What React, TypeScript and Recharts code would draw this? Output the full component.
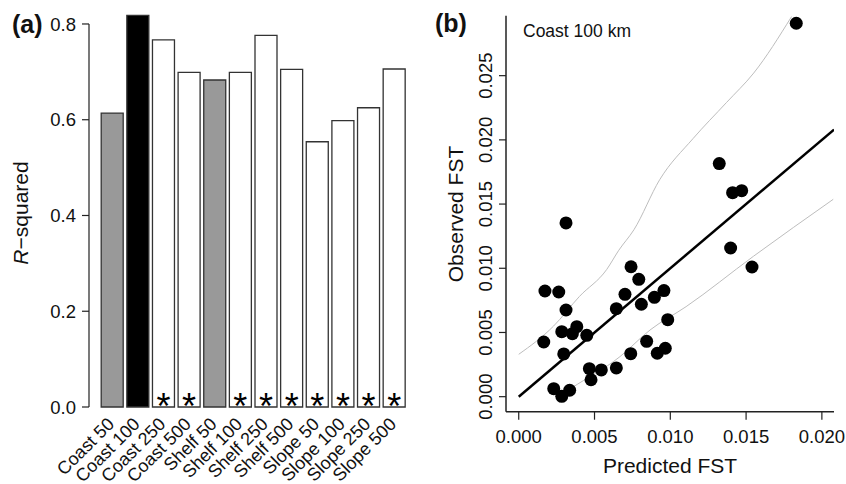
import { BarChart, Bar, XAxis, YAxis, Cell, LabelList, ScatterChart, Scatter } from "recharts";

const FONT = "'Liberation Sans', Arial, Helvetica, sans-serif";

// panel (a)
const categories = [
  "Coast 50", "Coast 100", "Coast 250", "Coast 500",
  "Shelf 50", "Shelf 100", "Shelf 250", "Shelf 500",
  "Slope 50", "Slope 100", "Slope 250", "Slope 500",
];
const rSquared = [0.614, 0.818, 0.767, 0.699, 0.683, 0.699, 0.776, 0.705, 0.554, 0.598, 0.625, 0.706];
const significant = [false, false, true, true, false, true, true, true, true, true, true, true];
const barFills = ["#999999", "#000000", "#ffffff", "#ffffff", "#999999", "#ffffff", "#ffffff", "#ffffff", "#ffffff", "#ffffff", "#ffffff", "#ffffff"];
const rTicks = [0, 0.2, 0.4, 0.6, 0.8];

// panel (b)
const predictedFst = [
  0.00173, 0.00264, 0.00312, 0.00284, 0.00354, 0.00383, 0.00165, 0.00297, 0.00449,
  0.00231, 0.00284, 0.00336, 0.00466, 0.00477, 0.00545, 0.00644, 0.00644, 0.00701,
  0.00741, 0.00792, 0.00809, 0.00739, 0.00844, 0.00895, 0.00958, 0.00983, 0.00914,
  0.00967, 0.01398, 0.01539, 0.01323, 0.01411, 0.01471, 0.00312, 0.01831,
];
const observedFst = [
  0.00823, 0.00815, 0.00675, 0.00506, 0.00491, 0.00545, 0.00426, 0.00333, 0.00478,
  0.00062, 0.00003, 0.0005, 0.00218, 0.00132, 0.00208, 0.00224, 0.00685, 0.00797,
  0.01012, 0.00914, 0.0072, 0.00335, 0.00431, 0.00774, 0.00826, 0.006, 0.00338,
  0.00377, 0.01158, 0.0101, 0.01815, 0.01589, 0.01604, 0.01353, 0.02908,
];
const fitX = [0, 0.0208];
const fitY = [0, 0.0208];
const upperX = [0, 0.0023, 0.004, 0.0058, 0.0066, 0.0076, 0.0093, 0.0115, 0.0137, 0.0155, 0.018];
const upperY = [0.0033, 0.0055, 0.0078, 0.0099, 0.0114, 0.013, 0.0169, 0.0201, 0.0229, 0.0252, 0.0296];
const lowerX = [0.003, 0.00345, 0.00668, 0.00866, 0.01104, 0.01548, 0.02075];
const lowerY = [0.0003, 0.00065, 0.00312, 0.00519, 0.00701, 0.01093, 0.01537];
const fstTicks = [0, 0.005, 0.01, 0.015, 0.02];
const obsTicks = [0, 0.005, 0.01, 0.015, 0.02, 0.025];

const barData = categories.map((name, i) => ({ name, r2: rSquared[i], star: significant[i] ? "*" : "" }));
const points = predictedFst.map((x, i) => ({ x, y: observedFst[i] }));
const pairs = (xs: number[], ys: number[]) => xs.map((x, i) => ({ x, y: ys[i] }));

const SlantTick = ({ x, y, payload }: any) => (
  <g transform={`translate(${x - 1},${y + 14}) rotate(-45)`}>
    <text textAnchor="end" dominantBaseline="central" fontSize={18} fontFamily={FONT} fill="#111">
      {payload.value}
    </text>
  </g>
);

const VertTick = ({ x, y, payload }: any) => (
  <text x={x - 7} y={y} transform={`rotate(-90, ${x - 7}, ${y})`} textAnchor="middle" fontSize={18.5} fontFamily={FONT} fill="#111">
    {payload.value.toFixed(3)}
  </text>
);

const Star = ({ x, y, width, height, value }: any) =>
  value ? (
    <text x={x + width / 2} y={y + height + 12} textAnchor="middle" fontSize={36} fontFamily={FONT} fill="#000">
      {value}
    </text>
  ) : null;

const Dot = ({ cx, cy }: any) => <circle cx={cx} cy={cy} r={6.5} fill="#000" />;
const NoDot = () => <g />;

export default function App() {
  return (
    <div style={{ position: "absolute", left: 0, top: 0, width: 846, height: 484, background: "#fff", fontFamily: FONT }}>
      <div style={{ position: "absolute", left: 0, top: 0 }}>
        <BarChart width={420} height={484} data={barData} margin={{ top: 14.4, right: 13.2, left: 0, bottom: 17 }} style={{ overflow: "visible" }}>
          <XAxis
            dataKey="name"
            interval={0}
            axisLine={false}
            tickLine={false}
            tickSize={0}
            tickMargin={0}
            height={60}
            padding={{ left: 10.2, right: 0 }}
            tick={SlantTick}
          />
          <YAxis
            domain={[0, 0.82]}
            ticks={rTicks}
            width={89}
            tickSize={7}
            tickMargin={6}
            tickFormatter={(v: number) => v.toFixed(1)}
            tick={{ fontSize: 18.5, fill: "#111", fontFamily: FONT }}
            axisLine={{ stroke: "#222", strokeWidth: 1.2, strokeDasharray: "0 9.6 1000" }}
            tickLine={{ stroke: "#222", strokeWidth: 1.2 }}
          />
          <Bar dataKey="r2" barSize={22} stroke="#333" strokeWidth={1.3} isAnimationActive={false}>
            {barData.map((_, i) => (
              <Cell key={i} fill={barFills[i]} />
            ))}
            <LabelList dataKey="star" content={Star} />
          </Bar>
        </BarChart>
      </div>

      <div style={{ position: "absolute", left: 420, top: 0 }}>
        <ScatterChart width={426} height={484} margin={{ top: 15.7, right: 12, left: 0, bottom: 0 }}>
          <XAxis
            type="number"
            dataKey="x"
            domain={[-0.00084, 0.0208]}
            allowDataOverflow
            ticks={fstTicks}
            tickFormatter={(v: number) => v.toFixed(3)}
            height={72.3}
            tickSize={8}
            tickMargin={10}
            tick={{ fontSize: 18.5, fill: "#111", fontFamily: FONT }}
            axisLine={{ stroke: "#222", strokeWidth: 1.5 }}
            tickLine={{ stroke: "#222", strokeWidth: 1.2 }}
          />
          <YAxis
            type="number"
            dataKey="y"
            domain={[-0.00117, 0.02967]}
            allowDataOverflow
            ticks={obsTicks}
            width={86}
            tickSize={7}
            tickMargin={0}
            tick={VertTick}
            axisLine={{ stroke: "#222", strokeWidth: 1.5 }}
            tickLine={{ stroke: "#222", strokeWidth: 1.2 }}
          />
          <XAxis xAxisId="top" orientation="top" type="number" height={0} tick={false} tickLine={false} axisLine={{ stroke: "#222", strokeWidth: 1.5 }} />
          <YAxis yAxisId="right" orientation="right" type="number" width={0} tick={false} tickLine={false} axisLine={{ stroke: "#222", strokeWidth: 1.5 }} />
          <Scatter data={pairs(upperX, upperY)} line={{ stroke: "#bdbdbd", strokeWidth: 1 }} lineJointType="monotoneX" shape={NoDot} isAnimationActive={false} />
          <Scatter data={pairs(lowerX, lowerY)} line={{ stroke: "#bdbdbd", strokeWidth: 1 }} lineJointType="monotoneX" shape={NoDot} isAnimationActive={false} />
          <Scatter data={pairs(fitX, fitY)} line={{ stroke: "#000", strokeWidth: 2.5 }} shape={NoDot} isAnimationActive={false} />
          <Scatter data={points} shape={Dot} isAnimationActive={false} />
        </ScatterChart>
      </div>

      <svg width={846} height={484} style={{ position: "absolute", left: 0, top: 0, pointerEvents: "none" }} fontFamily={FONT} fill="#111">
        <text x={12} y={33} fontSize={25} fontWeight="bold">(a)</text>
        <text x={435} y={32} fontSize={25} fontWeight="bold">(b)</text>
        <text x={28} y={213} fontSize={21} textAnchor="middle" transform="rotate(-90, 28, 213)">
          <tspan fontStyle="italic">R</tspan>−squared
        </text>
        <text x={463} y={214} fontSize={21} textAnchor="middle" transform="rotate(-90, 463, 214)">Observed FST</text>
        <text x={670} y={472.7} fontSize={21} textAnchor="middle">Predicted FST</text>
        <text x={523} y={37} fontSize={17.5}>Coast 100 km</text>
      </svg>
    </div>
  );
}
